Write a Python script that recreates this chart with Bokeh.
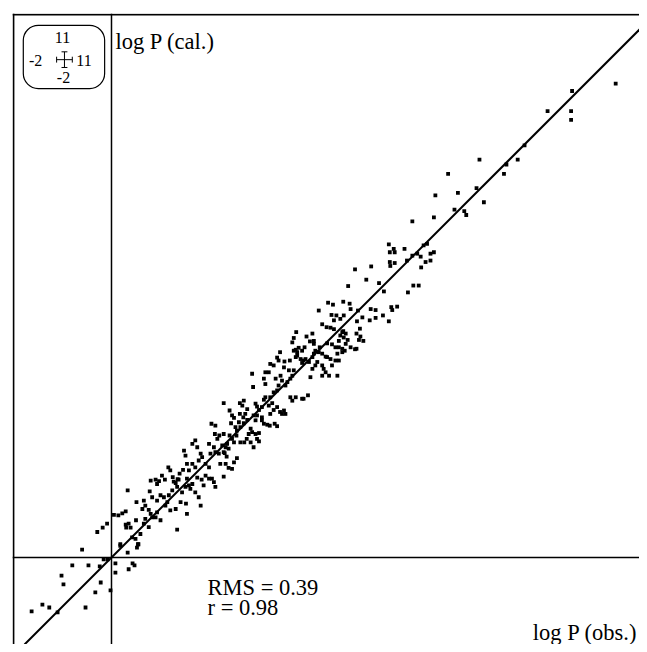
from bokeh.plotting import figure
from bokeh.models import Range1d, Span, Slope, Label, BoxAnnotation
from bokeh.embed import file_html
from bokeh.resources import INLINE

# ---- data: log P (obs.) vs log P (cal.) ----
obs_a = [-0.60, 0.18, 0.55, 0.33, -0.16, -0.08, 0.08, -0.80, -0.47, -0.24, 0.43, 0.47,
         0.35, 0.08, -1.02, -0.98, -0.22, -0.33, -0.02, -1.41, -1.27, -1.63, -1.10, -0.53]
cal_a = [0.16, 0.27, 0.27, 0.10, -0.04, -0.04, -0.12, -0.16, -0.16, -0.18, -0.12, -0.16,
         -0.24, -0.31, -0.37, -0.55, -0.51, -0.71, -0.67, -0.96, -1.02, -1.10, -1.12, -1.02]

pts_b = [(-0.29,0.52),(-0.18,0.61),(-0.09,0.69),(0.05,0.87),(0.14,0.86),(0.22,0.90),(0.29,0.94),
         (0.33,1.37),(0.18,0.24),(0.29,0.67),(0.35,0.69),(0.39,0.61),(0.30,0.61),(0.42,0.41),
         (0.54,0.27),(0.52,0.20),(0.49,0.38),(0.59,0.48),(0.50,0.76),(0.51,1.13),(0.63,0.99),
         (0.66,1.16),(0.69,1.06),(0.76,0.97),(0.80,0.89),(0.69,0.79),(0.66,0.69),(0.78,1.35),
         (0.80,1.57),(0.90,1.59),(0.93,1.50),(0.97,1.56),(1.03,1.67),(1.09,1.59),(1.16,1.84),
         (1.20,1.78),(1.25,1.64),(1.31,1.52),(1.35,1.60),(1.39,1.71),(1.46,1.79),(0.83,1.23),
         (0.93,1.16),(1.00,1.27),(1.07,1.23),(1.14,1.13),(1.17,1.27),(1.24,1.37),(1.34,1.44),
         (1.44,1.33),(1.51,1.44),(1.61,1.40),(1.65,1.50),(0.76,0.62),(0.83,0.82),(0.90,0.82),
         (0.93,0.92),(1.00,0.76),(1.10,1.06),(1.20,0.96),(1.31,0.99),(1.41,1.13),(1.52,1.10),
         (1.54,0.89),(1.34,0.57),(1.58,1.47),(1.71,1.33),(1.78,1.23),(1.82,1.06),(1.99,1.61),
         (2.05,1.61),(2.09,1.54),(2.12,1.44),(2.29,1.65),(1.48,2.18),(1.51,2.08),(1.54,1.91),
         (1.58,1.78),(1.65,1.91),(1.71,1.84),(1.78,1.98),(1.82,2.12),(1.71,2.39),(1.65,2.32),
         (1.75,2.25),(1.85,2.05),(1.92,1.91),(1.99,1.84),(2.02,2.12),(2.09,2.25),(2.12,2.15),
         (2.19,2.12),(2.29,2.15),(2.26,2.29),(2.16,2.42),(2.11,2.52),(2.20,2.49),(2.29,2.52),
         (2.04,2.73),(2.12,2.69),(2.22,1.91),(1.99,2.32),(1.75,1.63),(1.84,1.59),(1.88,1.47),
         (1.92,1.67),(1.54,1.61),(1.37,1.59),(1.27,1.55)]

pts_c = [(2.29,3.15),(2.41,3.00),(2.46,2.90),(2.50,2.85),(2.44,2.74),(2.53,2.66),(2.56,2.59),
         (2.41,2.49),(2.46,2.42),(2.50,2.35),(2.36,2.32),(2.33,2.25),(2.39,2.22),(2.31,2.13),
         (2.35,2.06),(2.56,2.03),(2.63,2.66),(2.70,2.74),(2.60,2.76),(2.69,2.86),(2.67,3.10),
         (2.62,3.15),(2.70,3.20),(2.73,2.93),(2.77,2.81),(2.84,2.63),(2.80,2.52),(2.76,2.42),
         (2.71,2.35),(2.63,2.35),(2.84,2.35),(2.77,3.03),(2.62,2.93),(2.55,2.49),(2.46,1.81),
         (2.39,1.83),(2.33,1.91),(2.50,1.94)]

pts_d = [(5.68,6.23),(5.78,6.23),(5.68,6.03),(5.78,6.01),(5.69,5.95),(6.03,6.06),(6.14,6.16),
         (6.24,6.20),(6.31,6.14),(6.41,6.03),(6.51,6.06),(6.51,6.20),(6.58,6.23),(6.32,5.92),
         (6.16,5.55),(6.27,5.55),(6.05,5.41),(4.97,5.88),(5.30,5.94),(5.20,5.67),(5.46,5.60),
         (5.56,5.43),(4.83,5.54),(4.42,5.20),(4.52,5.16),(4.23,5.04),(4.73,5.22),(4.86,5.18),
         (4.88,5.07),(5.03,5.04),(4.49,4.95),(4.59,4.94),(4.74,4.94),(4.54,4.84),(4.67,4.87),
         (4.30,4.76),(4.39,4.70),(4.47,4.69),(4.54,4.66),(4.71,4.60),(4.78,4.57),(3.77,4.60),
         (4.10,4.57),(3.98,4.51),(3.72,4.48),(3.69,4.39),(4.05,4.41),(4.13,4.42),(4.13,4.36),
         (4.25,4.29),(4.40,4.37),(4.50,4.35),(4.57,4.29),(4.64,4.29),(4.71,4.26),(4.76,4.22),
         (5.01,4.82),(5.12,4.90),(5.29,5.07),(5.39,5.05),(5.27,4.84),(5.39,4.89),(5.54,4.94),
         (5.66,4.82),(5.71,5.11),(5.83,5.12),(5.73,5.05),(5.00,4.57),(5.08,4.51),(5.07,4.67),
         (5.05,4.44),(5.14,4.42),(5.00,4.26),(3.72,4.22),(3.79,4.19),(3.79,4.12),(3.76,4.09),
         (3.86,4.05),(3.92,4.02),(3.96,4.05),(3.89,3.97),(3.64,4.02),(3.53,4.00),(3.44,4.19),
         (3.38,4.08),(3.31,3.92),(3.24,3.95),(3.41,4.02),(3.14,3.78),(3.21,3.78),(3.11,3.65),
         (3.14,3.54),(2.87,3.75),(2.89,3.48),(3.35,3.65),(3.45,3.71),(3.48,3.61),(3.41,3.51),
         (3.38,3.41),(3.31,3.37),(3.24,3.27),(3.14,3.27),(3.11,3.22),(2.94,3.14),(2.97,3.08),
         (3.01,3.01),(3.07,3.07),(3.21,3.10),(3.28,3.15),(3.31,3.01),(3.38,3.07),(3.55,3.51),
         (3.59,3.58),(3.65,3.65),(3.69,3.71),(3.72,3.82),(3.62,3.82),(3.52,3.88),(3.65,3.27),
         (3.69,3.20),(3.76,3.27),(3.89,3.24),(3.92,3.24),(4.01,3.31),(3.52,3.00),(3.55,2.93),
         (3.48,2.93),(3.44,2.97),(2.90,2.90),(2.97,2.90),(2.94,2.80),(3.07,2.80),(3.11,2.73),
         (3.18,2.71),(3.23,2.69),(3.33,2.73),(3.38,2.68),(2.87,2.56),(2.94,2.52),(3.01,2.54),
         (2.97,2.42),(3.01,2.37),(2.90,2.25),(3.07,2.86),(3.24,2.93),(4.06,3.68),(4.10,3.85),
         (4.16,3.92),(4.20,3.99),(4.30,3.92),(4.33,3.85),(4.37,3.78),(4.30,3.71),(4.44,3.71),
         (4.61,3.71),(4.40,4.09),(4.47,4.05),(4.57,4.02),(4.64,4.02),(4.50,3.92),(4.30,4.16),
         (4.37,4.10),(4.61,4.16),(4.71,4.19),(4.64,4.42),(4.82,4.44),(4.78,4.36),(4.88,4.29),
         (4.97,4.25),(4.23,4.19),(4.16,4.22),(4.13,4.16),(4.03,3.99),(4.10,4.09),(3.89,4.22),
         (3.94,4.29),(3.82,4.28),(3.76,4.24),(4.73,4.62),(4.67,4.53),(4.74,4.49)]

pts_e = [(6.14,6.86),(5.66,6.39),(5.76,6.30),(5.98,6.30),(6.37,6.37),(6.44,6.40),(8.90,9.11),
         (7.51,8.12),(6.87,7.83),(8.06,8.02),(8.01,7.83),(8.29,8.12),(7.45,7.54),(7.07,7.44),
         (6.61,7.39),(7.60,7.25),(7.00,7.10),(7.20,7.07),(7.24,6.99),(6.58,6.94),(8.43,8.41),
         (9.40,9.52),(10.29,9.67),(9.38,9.11),(9.38,8.93)]

obs = obs_a + [p[0] for p in pts_b + pts_c + pts_d + pts_e]
cal = cal_a + [p[1] for p in pts_b + pts_c + pts_d + pts_e]

axis_lo, axis_hi = -2, 11
rms_text = "RMS = 0.39"
r_text = "r = 0.98"
x_title = "log P (obs.)"
y_title = "log P (cal.)"

SERIF = "Liberation Serif"
FS = "22.5px"

p = figure(width=639, height=644,
           x_range=Range1d(-2.0204, 10.776), y_range=Range1d(-1.7755, 11.102),
           x_axis_type=None, y_axis_type=None,
           toolbar_location=None, output_backend="svg",
           min_border_left=12, min_border_right=0, min_border_top=13, min_border_bottom=0,
           outline_line_color=None, background_fill_color="white", border_fill_color="white")

# frame edges (left and top visible)
p.add_layout(Span(location=axis_lo, dimension="height", line_color="black", line_width=1.8))
p.add_layout(Span(location=11.08, dimension="width", line_color="black", line_width=1.8))
# axes through origin
p.add_layout(Span(location=0, dimension="height", line_color="black", line_width=1.5))
p.add_layout(Span(location=0, dimension="width", line_color="black", line_width=1.5))
# identity line
p.add_layout(Slope(gradient=1, y_intercept=0, line_color="black", line_width=2))

p.scatter(obs, cal, marker="square", size=3.8, color="black", line_width=0)

# texts
lab = dict(text_font=SERIF, text_font_size=FS, text_color="black", text_baseline="alphabetic")
p.add_layout(Label(x=0.08, y=10.53, text=y_title, **lab))
p.add_layout(Label(x=1.96, y=-0.61, text=rms_text, **lab))
p.add_layout(Label(x=1.96, y=-1.02, text=r_text, **lab))
p.add_layout(Label(x=10.73, y=-1.53, text=x_title, text_align="right", **lab))

# inset key
p.add_layout(BoxAnnotation(left=-1.80, right=-0.14, bottom=9.57, top=10.86,
                           fill_color=None, fill_alpha=0, line_color="black", line_alpha=1,
                           line_width=1.2, border_radius=15))
ks = dict(text_font=SERIF, text_font_size="16px", text_color="black",
          text_align="center", text_baseline="middle")
p.add_layout(Label(x=-1.00, y=10.61, text=str(axis_hi), **ks))
p.add_layout(Label(x=-0.98, y=9.79, text=str(axis_lo), **ks))
p.add_layout(Label(x=-1.55, y=10.15, text=str(axis_lo), **ks))
p.add_layout(Label(x=-0.56, y=10.15, text=str(axis_hi), **ks))
cx, cy, hw, ht = -0.96, 10.16, 0.16, 0.06
p.segment(x0=[cx - hw, cx, cx - hw, cx + hw, cx - ht, cx - ht],
          y0=[cy, cy - hw, cy - ht, cy - ht, cy + hw, cy - hw],
          x1=[cx + hw, cx, cx - hw, cx + hw, cx + ht, cx + ht],
          y1=[cy, cy + hw, cy + ht, cy + ht, cy + hw, cy - hw],
          line_color="black", line_width=1)

open("out.html", "w").write(file_html(p, INLINE))
